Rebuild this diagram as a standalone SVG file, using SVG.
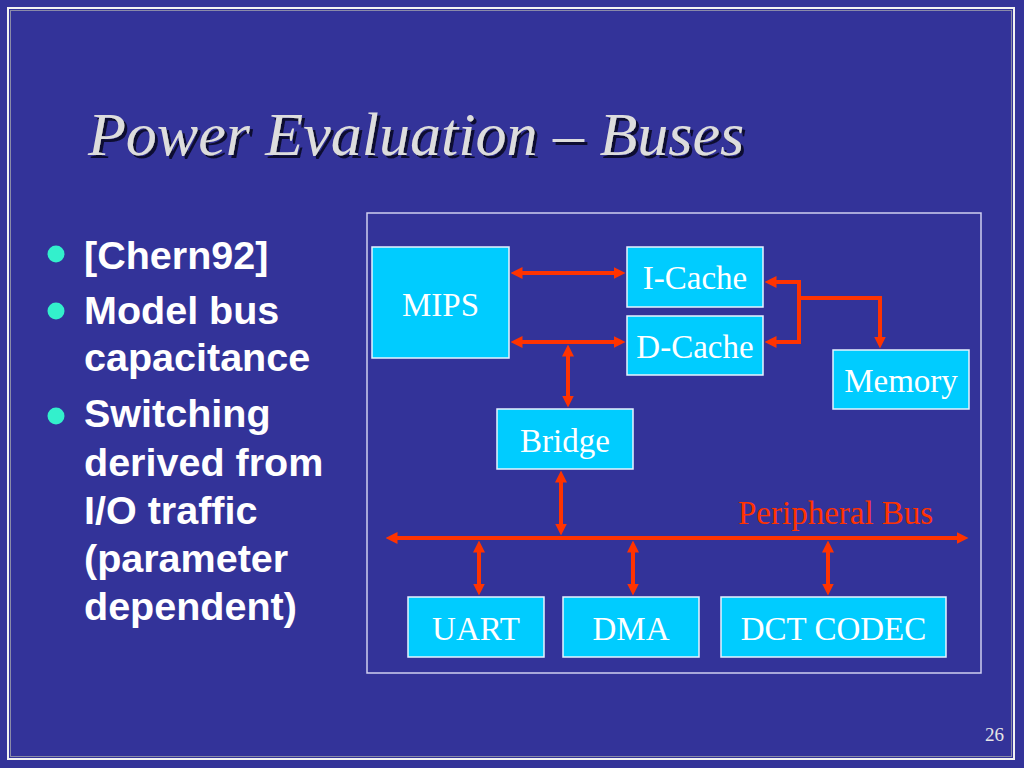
<svg xmlns="http://www.w3.org/2000/svg" width="1024" height="768" viewBox="0 0 1024 768">
  <style>
    .box { fill: #00CCFF; stroke: #E6F4FF; stroke-width: 1.5; }
    .lbl { font-family: "Liberation Serif", "Times New Roman", serif; font-size: 33px; fill: #FFFFFF; text-anchor: middle; }
    .bullet-text { font-family: "Liberation Sans", Arial, sans-serif; font-weight: bold; font-size: 39.5px; fill: #FFFFFF; }
    .bullet { fill: #33F0CC; }
    .conn { fill: none; stroke: #FF3300; stroke-width: 4; marker-start: url(#ah); marker-end: url(#ah); }
    .conn1 { fill: none; stroke: #FF3300; stroke-width: 4; marker-end: url(#ah); }
    .title { font-family: "Liberation Serif", "Times New Roman", serif; font-style: italic; font-size: 62px; fill: #DDDDDD; }
  </style>
  <defs>
    <marker id="ah" viewBox="0 0 12 12" refX="0.5" refY="6" markerWidth="12" markerHeight="12" markerUnits="userSpaceOnUse" orient="auto-start-reverse">
      <path d="M0,0 L12,6 L0,12 z" fill="#FF3300"/>
    </marker>
    <filter id="shadow" x="-5%" y="-20%" width="110%" height="140%">
      <feOffset in="SourceAlpha" dx="3" dy="3" result="off"/>
      <feFlood flood-color="#111133"/>
      <feComposite in2="off" operator="in" result="sh"/>
      <feMerge>
        <feMergeNode in="sh"/>
        <feMergeNode in="SourceGraphic"/>
      </feMerge>
    </filter>
  </defs>

  <rect x="0" y="0" width="1024" height="768" fill="#333399"/>
  <rect x="8" y="8" width="1006" height="751" fill="none" stroke="#F2F2F2" stroke-width="2"/>
  <rect x="10.5" y="10.5" width="1001" height="746" fill="none" stroke="#8A8AA8" stroke-width="1"/>

  <g id="title">
    <text class="title" x="88" y="155" filter="url(#shadow)">Power Evaluation – Buses</text>
  </g>

  <g id="bullets">
    <circle class="bullet" cx="56" cy="254" r="8.5"/>
    <circle class="bullet" cx="56" cy="311" r="8.5"/>
    <circle class="bullet" cx="56" cy="416" r="8.5"/>
    <text class="bullet-text" x="84" y="269">[Chern92]</text>
    <text class="bullet-text" x="84" y="324">Model bus</text>
    <text class="bullet-text" x="84" y="371">capacitance</text>
    <text class="bullet-text" x="84" y="427">Switching</text>
    <text class="bullet-text" x="84" y="476">derived from</text>
    <text class="bullet-text" x="84" y="524">I/O traffic</text>
    <text class="bullet-text" x="84" y="572">(parameter</text>
    <text class="bullet-text" x="84" y="620">dependent)</text>
  </g>

  <rect id="frame" x="367" y="213" width="614" height="460" fill="none" stroke="#D0D0F0" stroke-width="1.5"/>

  <g id="connectors">
    <line class="conn" x1="522" y1="273" x2="614" y2="273"/>
    <line class="conn" x1="522" y1="342" x2="614" y2="342"/>
    <line class="conn" x1="568" y1="356" x2="568" y2="396"/>
    <path class="conn" d="M776,282 L799,282 L799,342 L776,342"/>
    <path class="conn1" d="M799,298 L880,298 L880,337"/>
    <line class="conn" x1="561" y1="482" x2="561" y2="524"/>
    <line class="conn" x1="397" y1="538" x2="957" y2="538"/>
    <line class="conn" x1="479" y1="552" x2="479" y2="584"/>
    <line class="conn" x1="633" y1="552" x2="633" y2="584"/>
    <line class="conn" x1="828" y1="552" x2="828" y2="584"/>
  </g>

  <text id="bus-label" x="738" y="524" font-family="Liberation Serif, Times New Roman, serif" font-size="33px" fill="#FF3300">Peripheral Bus</text>

  <g id="mips">
    <rect class="box" x="372" y="247" width="137" height="111"/>
    <text class="lbl" x="440.5" y="316">MIPS</text>
  </g>
  <g id="icache">
    <rect class="box" x="627" y="247" width="136" height="60"/>
    <text class="lbl" x="695" y="289">I-Cache</text>
  </g>
  <g id="dcache">
    <rect class="box" x="627" y="316" width="136" height="59"/>
    <text class="lbl" x="695" y="358">D-Cache</text>
  </g>
  <g id="memory">
    <rect class="box" x="833" y="350" width="136" height="59"/>
    <text class="lbl" x="901" y="392">Memory</text>
  </g>
  <g id="bridge">
    <rect class="box" x="497" y="409" width="136" height="60"/>
    <text class="lbl" x="565" y="452">Bridge</text>
  </g>
  <g id="uart">
    <rect class="box" x="408" y="597" width="136" height="60"/>
    <text class="lbl" x="476" y="640">UART</text>
  </g>
  <g id="dma">
    <rect class="box" x="563" y="597" width="136" height="60"/>
    <text class="lbl" x="631" y="640">DMA</text>
  </g>
  <g id="dct">
    <rect class="box" x="721" y="597" width="225" height="60"/>
    <text class="lbl" x="833.5" y="640">DCT CODEC</text>
  </g>

  <text id="page" x="985" y="741" font-family="Liberation Serif, Times New Roman, serif" font-size="19px" fill="#E6E6E6">26</text>
</svg>
